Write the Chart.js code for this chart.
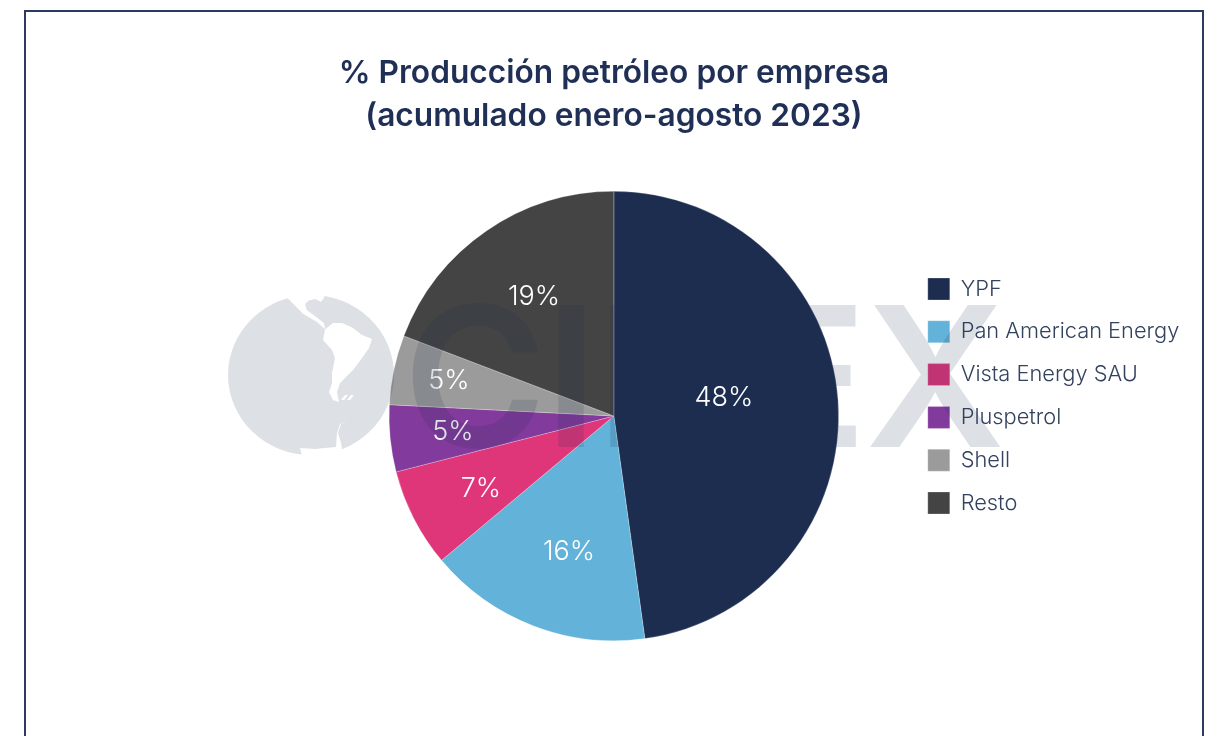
<!DOCTYPE html>
<html>
<head>
<meta charset="utf-8">
<style>html,body{margin:0;padding:0;background:#fff}canvas{display:block}</style>
<script src="https://cdn.jsdelivr.net/npm/chart.js@4"></script>
</head>
<body>
<canvas id="c" width="1214" height="736"></canvas>
<script>
const titleLines = ['% Producción petróleo por empresa', '(acumulado enero-agosto 2023)'];
const categories = ['YPF', 'Pan American Energy', 'Vista Energy SAU', 'Pluspetrol', 'Shell', 'Resto'];
const shares = [47.8, 16.1, 7.1, 4.8, 5.0, 19.2];
const shownLabels = ['48%', '16%', '7%', '5%', '5%', '19%'];
const sliceColors = ['#1D2D50', '#62B2D9', '#DF367A', '#823A9C', '#9B9B9B', '#444444'];
const labelRadius = [0.5, 0.63, 0.67, 0.72, 0.75, 0.65];
const labelShiftX = [-2, 6, 1, 0, 0, 3];
const labelShiftY = [-10, 4, 4, 0, 0, 1];

const NAVY = '#1F2F55';
const WM = 'rgba(30,45,80,0.15)';
const wmLetters = [['C', 412], ['I', 558], ['P', 610], ['E', 763], ['X', 870]];
const landShapes = [
  [[286.7,297.3],[303.3,314],[316.7,321.7],[325,329.3],[324,323.3],[316.7,317.3],[312.3,314],[306.7,310],[305,304],[308.3,300.7],[315,299],[320.7,301.7],[323.3,299.3],[325,294],[325,290],[286,290]],
  [[325,329.5],[333,323],[342,323],[353,328],[362,335],[372,339],[369,348],[362,358],[353,370],[348,375],[340,383],[337,392],[339,402],[333,400],[329,392],[332,383],[332,373],[335,358],[332,350],[323,340]],
  [[348,420],[341,424],[338,433],[341,443],[343,454],[340,462],[275,462],[277,452],[293,455],[302,456],[300,448],[315,449],[325,448],[336,447],[337,433],[340,424]],
  [[341,400],[345,395],[348,395],[344,400]],
  [[347,400],[351,395],[354,395],[350,400]]
];

const overlays = {
  id: 'overlays',
  afterLayout(chart) {
    const t = chart.titleBlock, l = chart.legend;
    t.left = 0; t.right = 1228; t.top = 51.5; t.bottom = t.top + t.height;
    const dx = 907 - l.left, dy = 396 - (l.top + l.bottom) / 2;
    l.left += dx; l.right += dx; l.top += dy; l.bottom += dy;
    if (l.adjustHitBoxes) l.adjustHitBoxes();
  },
  beforeDraw(chart) {
    const c = chart.ctx;
    c.save();
    c.fillStyle = '#fff';
    c.fillRect(0, 0, 1214, 736);
    c.strokeStyle = '#2B3A5E';
    c.lineWidth = 2;
    c.beginPath();
    c.moveTo(25, 740); c.lineTo(25, 11); c.lineTo(1203, 11); c.lineTo(1203, 740);
    c.stroke();
    c.restore();
  },
  afterDatasetsDraw(chart) {
    const c = chart.ctx;
    const arcs = chart.getDatasetMeta(0).data;
    c.save();
    c.fillStyle = '#fff';
    c.font = '300 27px Inter';
    c.textAlign = 'center';
    c.textBaseline = 'middle';
    arcs.forEach((a, i) => {
      const mid = (a.startAngle + a.endAngle) / 2;
      const r = a.outerRadius * labelRadius[i];
      c.fillText(shownLabels[i], a.x + Math.cos(mid) * r + labelShiftX[i], a.y + Math.sin(mid) * r + labelShiftY[i]);
    });
    c.restore();
  },
  afterDraw(chart) {
    const c = chart.ctx;
    c.save();
    c.fillStyle = WM;
    c.font = '600 195px Inter';
    c.textAlign = 'left';
    c.textBaseline = 'alphabetic';
    wmLetters.forEach(([s, x]) => {
      const m = c.measureText(s);
      c.fillText(s, x + m.actualBoundingBoxLeft, 447);
    });
    c.restore();
    c.save();
    c.beginPath();
    c.ellipse(311, 375, 83, 80, 0, 0, Math.PI * 2);
    c.clip();
    c.beginPath();
    c.rect(200, 270, 220, 220);
    landShapes.forEach(s => {
      s.forEach((p, i) => i ? c.lineTo(p[0], p[1]) : c.moveTo(p[0], p[1]));
      c.closePath();
    });
    c.fillStyle = WM;
    c.fill('evenodd');
    c.restore();
  }
};

new Chart(document.getElementById('c'), {
  type: 'pie',
  data: {
    labels: categories,
    datasets: [{
      data: shares,
      backgroundColor: sliceColors,
      borderColor: 'rgba(255,255,255,0.5)',
      borderWidth: 0.5
    }]
  },
  options: {
    responsive: false,
    animation: false,
    layout: { padding: { top: 105, left: 322, right: 26, bottom: 95 } },
    plugins: {
      tooltip: { enabled: false },
      title: {
        display: true,
        text: titleLines,
        color: NAVY,
        font: { family: 'Inter', size: 31.7, weight: '600', lineHeight: 1.356 },
        padding: 0
      },
      legend: {
        position: 'right',
        labels: {
          color: '#33425F',
          font: { family: 'Inter', size: 21.8, weight: '300' },
          boxWidth: 22,
          boxHeight: 22,
          padding: 20.8
        }
      }
    }
  },
  plugins: [overlays]
});
</script>
</body>
</html>
